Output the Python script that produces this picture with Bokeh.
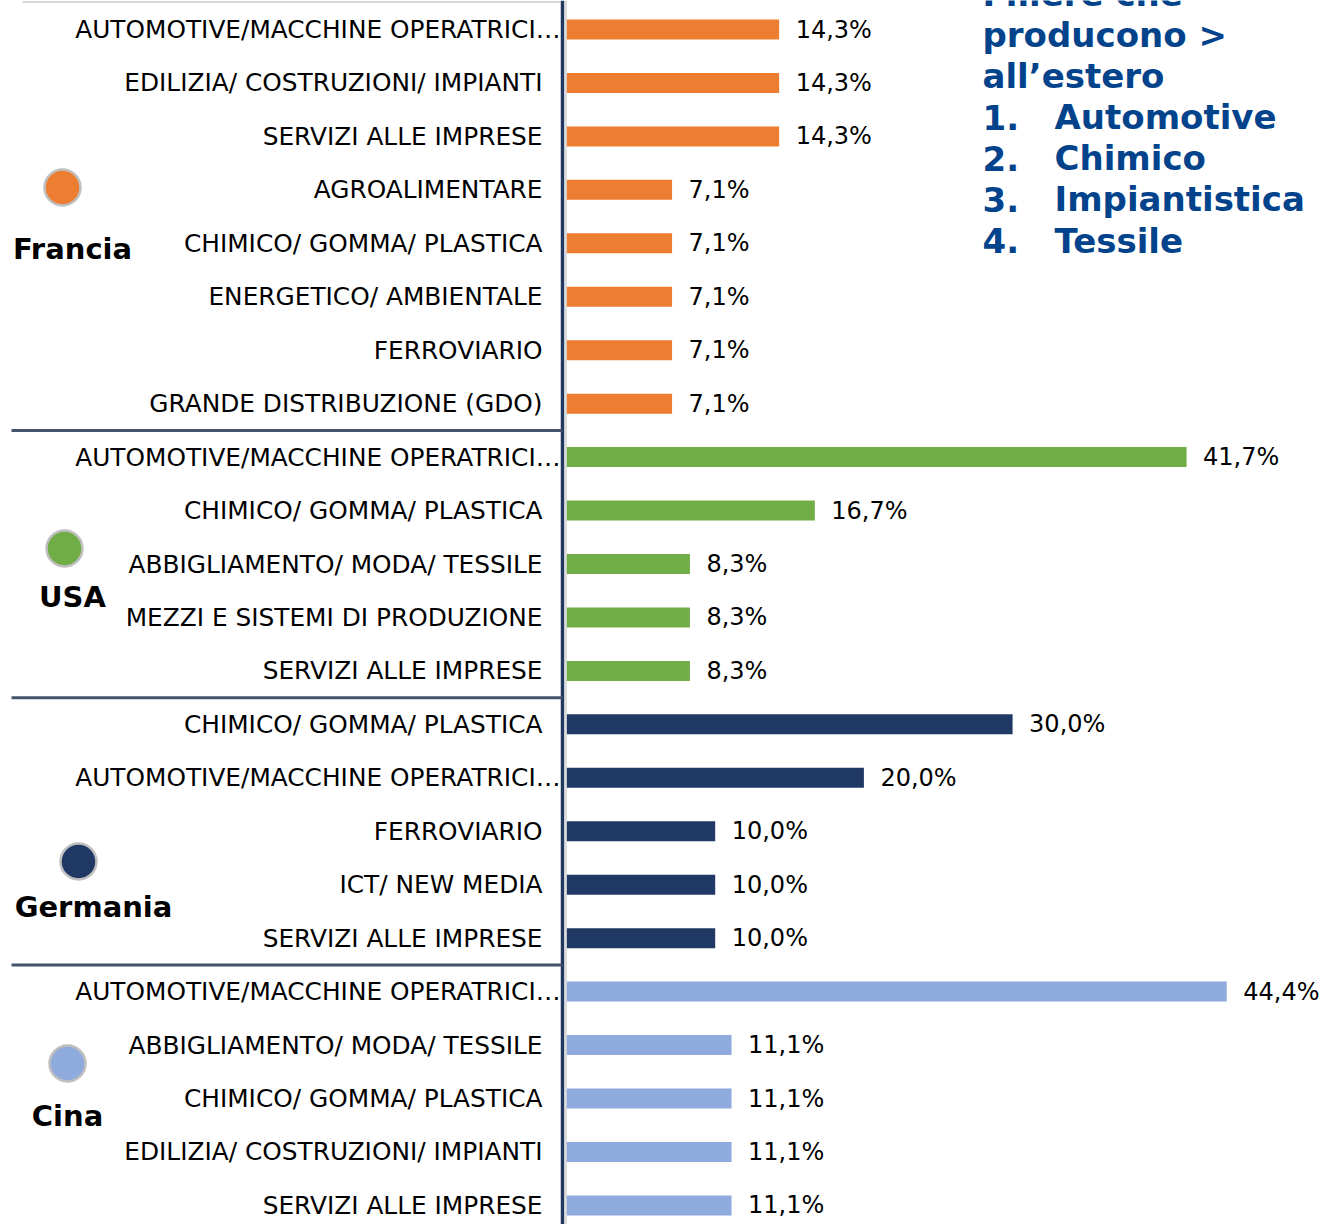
from bokeh.plotting import figure
from bokeh.models import Range1d
from bokeh.core.properties import value
from bokeh.embed import file_html
from bokeh.resources import INLINE

# ---------------- data ----------------
groups = ["Francia", "USA", "Germania", "Cina"]
group_colors = ["#ED7D31", "#70AD47", "#203864", "#8FAADC"]

francia_sectors = ["AUTOMOTIVE/MACCHINE OPERATRICI…", "EDILIZIA/ COSTRUZIONI/ IMPIANTI",
                   "SERVIZI ALLE IMPRESE", "AGROALIMENTARE", "CHIMICO/ GOMMA/ PLASTICA",
                   "ENERGETICO/ AMBIENTALE", "FERROVIARIO", "GRANDE DISTRIBUZIONE (GDO)"]
francia_values = [14.3, 14.3, 14.3, 7.1, 7.1, 7.1, 7.1, 7.1]

usa_sectors = ["AUTOMOTIVE/MACCHINE OPERATRICI…", "CHIMICO/ GOMMA/ PLASTICA",
               "ABBIGLIAMENTO/ MODA/ TESSILE", "MEZZI E SISTEMI DI PRODUZIONE",
               "SERVIZI ALLE IMPRESE"]
usa_values = [41.7, 16.7, 8.3, 8.3, 8.3]

germania_sectors = ["CHIMICO/ GOMMA/ PLASTICA", "AUTOMOTIVE/MACCHINE OPERATRICI…",
                    "FERROVIARIO", "ICT/ NEW MEDIA", "SERVIZI ALLE IMPRESE"]
germania_values = [30.0, 20.0, 10.0, 10.0, 10.0]

cina_sectors = ["AUTOMOTIVE/MACCHINE OPERATRICI…", "ABBIGLIAMENTO/ MODA/ TESSILE",
                "CHIMICO/ GOMMA/ PLASTICA", "EDILIZIA/ COSTRUZIONI/ IMPIANTI",
                "SERVIZI ALLE IMPRESE"]
cina_values = [44.4, 11.1, 11.1, 11.1, 11.1]

title_lines = ["Filiere che", "producono >", "all’estero"]
ranking_numbers = ["1.", "2.", "3.", "4."]
ranking_names = ["Automotive", "Chimico", "Impiantistica", "Tessile"]

# ---------------- layout ----------------
W, H = 1325, 1224
SCALE = 14.87      # px per percentage point
X0 = 566           # canvas px of the bar origin
PITCH = 53.45      # px per row
Y0 = 29            # canvas px of the first row centre

def dx(px):  # canvas px -> data x
    return (px - X0) / SCALE

def dy(py):  # canvas py -> data row
    return (py - Y0) / PITCH

all_sectors = [francia_sectors, usa_sectors, germania_sectors, cina_sectors]
all_values = [francia_values, usa_values, germania_values, cina_values]

sectors, values, colors, rows = [], [], [], []
group_start = []
r = 0
for gi, (s, v) in enumerate(zip(all_sectors, all_values)):
    group_start.append(r)
    for si, vi in zip(s, v):
        sectors.append(si)
        values.append(vi)
        colors.append(group_colors[gi])
        rows.append(r)
        r += 1

p = figure(width=W, height=H, output_backend="svg", toolbar_location=None,
           x_range=Range1d(-X0 / SCALE, (W - X0) / SCALE),
           y_range=Range1d((H - Y0) / PITCH, -Y0 / PITCH),
           min_border=0)
p.axis.visible = False
p.grid.visible = False
p.outline_line_color = None
p.background_fill_color = "white"

# bars
p.hbar(y=rows, left=0, right=values, height=0.375, color=colors, line_color=None)

# top light rule
p.segment(x0=[dx(22)], y0=[dy(1.5)], x1=[dx(560)], y1=[dy(1.5)],
          line_color="#D9D9D9", line_width=2)

# axis line + light shadow
p.segment(x0=[dx(565.5)], y0=[dy(0)], x1=[dx(565.5)], y1=[dy(1230)],
          line_color="#D0D0D0", line_width=1.5)
p.segment(x0=[dx(562)], y0=[dy(0)], x1=[dx(562)], y1=[dy(1230)],
          line_color="#22385F", line_width=3.5)

# separators between groups
sep_rows = [group_start[i] - 0.5 for i in range(1, len(group_start))]
p.segment(x0=[dx(11)] * len(sep_rows), y0=sep_rows,
          x1=[dx(562)] * len(sep_rows), y1=sep_rows,
          line_color="#44546A", line_width=3)

# category labels
lab_x = [dx(560) if s.endswith("…") else dx(542) for s in sectors]
p.text(x=lab_x, y=rows, text=sectors, text_align="right", text_baseline="middle",
       text_font=value("DejaVu Sans"), text_font_size=value("24.8px"), text_color="#000000")

# value labels
val_txt = [("%.1f" % v).replace(".", ",") + "%" for v in values]
p.text(x=[v + 16.5 / SCALE for v in values], y=rows, text=val_txt,
       text_align="left", text_baseline="middle",
       text_font=value("DejaVu Sans"), text_font_size=value("24px"), text_color="#000000")

# group markers and names
circ_px = [(62, 187), (64, 548), (78, 861), (67, 1063)]
name_px = [(72, 248), (72, 596), (93, 906), (67, 1115)]
p.scatter(x=[dx(c[0]) for c in circ_px], y=[dy(c[1]) for c in circ_px], size=36,
          fill_color=group_colors, line_color="#BFBFBF", line_width=2.5)
p.text(x=[dx(c[0]) for c in name_px], y=[dy(c[1]) for c in name_px], text=groups,
       text_align="center", text_baseline="middle",
       text_font=value("DejaVu Sans"), text_font_size=value("29px"),
       text_font_style="bold", text_color="#000000")

# title block (top right)
TITLE_COLOR = "#02438C"
base = [-7, 34, 75.2]
p.text(x=[dx(982)] * len(title_lines), y=[dy(b) for b in base], text=title_lines,
       text_align="left", text_baseline="alphabetic",
       text_font=value("DejaVu Sans"), text_font_size=value("34px"),
       text_font_style="bold", text_color=TITLE_COLOR)
rbase = [116.5, 157.7, 198.9, 240]
p.text(x=[dx(982)] * 4, y=[dy(b) for b in rbase], text=ranking_numbers,
       text_align="left", text_baseline="alphabetic",
       text_font=value("DejaVu Sans"), text_font_size=value("34px"),
       text_font_style="bold", text_color=TITLE_COLOR)
p.text(x=[dx(1054)] * 4, y=[dy(b) for b in rbase], text=ranking_names,
       text_align="left", text_baseline="alphabetic",
       text_font=value("DejaVu Sans"), text_font_size=value("34px"),
       text_font_style="bold", text_color=TITLE_COLOR)

open("out.html", "w").write(file_html(p, INLINE))
